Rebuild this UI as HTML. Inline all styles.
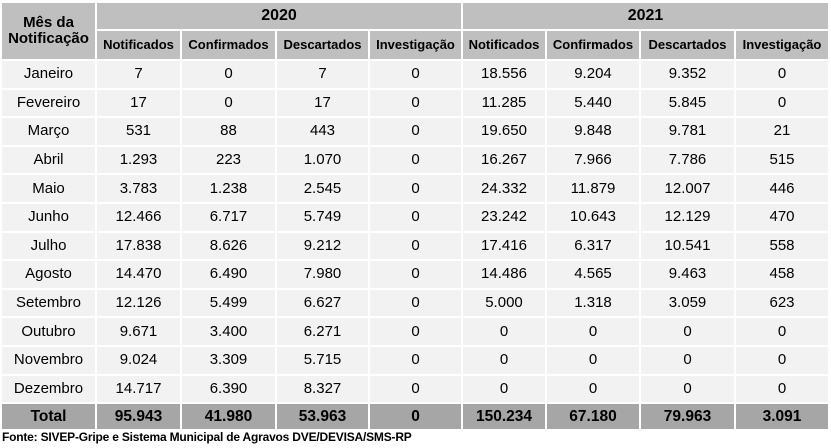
<!DOCTYPE html>
<html><head><meta charset="utf-8"><style>
html,body{margin:0;padding:0;background:#fff;width:831px;height:448px;overflow:hidden;font-family:"Liberation Sans",Arial,sans-serif;}
table{position:absolute;left:0;top:1px;border-collapse:separate;border-spacing:2px;table-layout:fixed;}
td{background:#f2f2f2;text-align:center;padding:0;color:#000;font-size:15px;height:26.6px;line-height:16px;white-space:nowrap;overflow:hidden;}
.h td{background:#bfbfbf;font-weight:bold;font-size:13px;}
.h1 td{height:26px;font-size:16px;}
.h2 td{height:28px;}
td.m{font-weight:bold;font-size:15px;line-height:16px;}
.t td{background:#a6a6a6;font-weight:bold;font-size:15.5px;height:25px;}
.f{position:absolute;left:2px;top:430px;font-size:12px;font-weight:bold;letter-spacing:-0.2px;}
</style></head><body>
<table>
<colgroup><col style="width:93px"><col style="width:83px"><col style="width:93px"><col style="width:91px"><col style="width:91px"><col style="width:82px"><col style="width:92px"><col style="width:93px"><col style="width:92px"></colgroup>
<tr class="h h1"><td rowspan="2" class="m">Mês da<br>Notificação</td><td colspan="4">2020</td><td colspan="4">2021</td></tr>
<tr class="h h2"><td>Notificados</td><td>Confirmados</td><td>Descartados</td><td>Investigação</td><td>Notificados</td><td>Confirmados</td><td>Descartados</td><td>Investigação</td></tr>
<tr><td>Janeiro</td><td>7</td><td>0</td><td>7</td><td>0</td><td>18.556</td><td>9.204</td><td>9.352</td><td>0</td></tr>
<tr><td>Fevereiro</td><td>17</td><td>0</td><td>17</td><td>0</td><td>11.285</td><td>5.440</td><td>5.845</td><td>0</td></tr>
<tr><td>Março</td><td>531</td><td>88</td><td>443</td><td>0</td><td>19.650</td><td>9.848</td><td>9.781</td><td>21</td></tr>
<tr><td>Abril</td><td>1.293</td><td>223</td><td>1.070</td><td>0</td><td>16.267</td><td>7.966</td><td>7.786</td><td>515</td></tr>
<tr><td>Maio</td><td>3.783</td><td>1.238</td><td>2.545</td><td>0</td><td>24.332</td><td>11.879</td><td>12.007</td><td>446</td></tr>
<tr><td>Junho</td><td>12.466</td><td>6.717</td><td>5.749</td><td>0</td><td>23.242</td><td>10.643</td><td>12.129</td><td>470</td></tr>
<tr><td>Julho</td><td>17.838</td><td>8.626</td><td>9.212</td><td>0</td><td>17.416</td><td>6.317</td><td>10.541</td><td>558</td></tr>
<tr><td>Agosto</td><td>14.470</td><td>6.490</td><td>7.980</td><td>0</td><td>14.486</td><td>4.565</td><td>9.463</td><td>458</td></tr>
<tr><td>Setembro</td><td>12.126</td><td>5.499</td><td>6.627</td><td>0</td><td>5.000</td><td>1.318</td><td>3.059</td><td>623</td></tr>
<tr><td>Outubro</td><td>9.671</td><td>3.400</td><td>6.271</td><td>0</td><td>0</td><td>0</td><td>0</td><td>0</td></tr>
<tr><td>Novembro</td><td>9.024</td><td>3.309</td><td>5.715</td><td>0</td><td>0</td><td>0</td><td>0</td><td>0</td></tr>
<tr><td>Dezembro</td><td>14.717</td><td>6.390</td><td>8.327</td><td>0</td><td>0</td><td>0</td><td>0</td><td>0</td></tr>
<tr class="t"><td>Total</td><td>95.943</td><td>41.980</td><td>53.963</td><td>0</td><td>150.234</td><td>67.180</td><td>79.963</td><td>3.091</td></tr>
</table>
<div class="f">Fonte: SIVEP-Gripe e Sistema Municipal de Agravos DVE/DEVISA/SMS-RP</div>
</body></html>
